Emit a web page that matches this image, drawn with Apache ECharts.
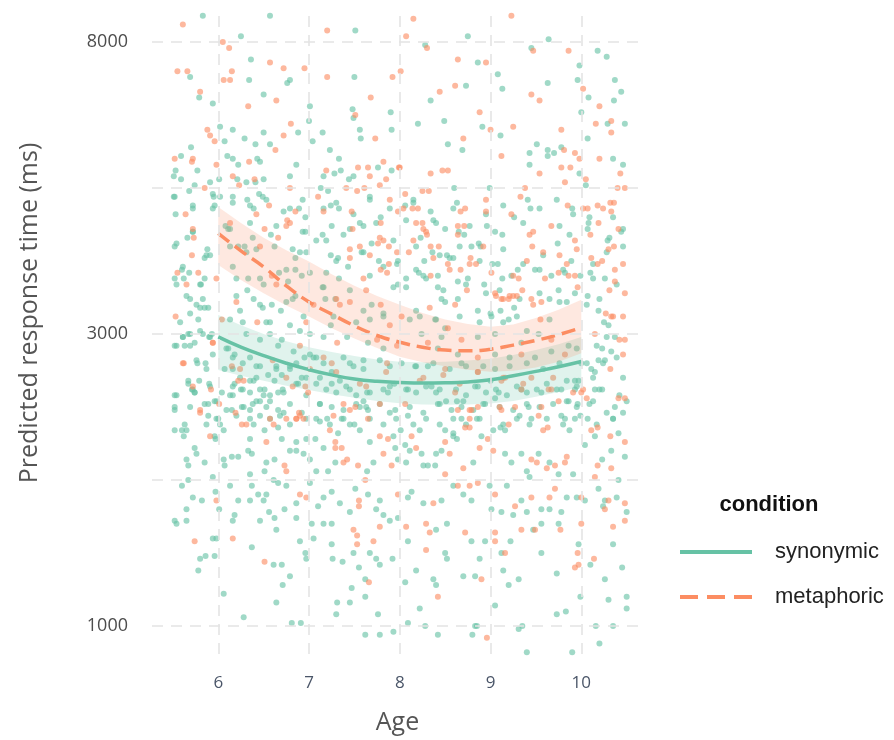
<!DOCTYPE html>
<html>
<head>
<meta charset="utf-8">
<script src="https://cdn.jsdelivr.net/npm/echarts@6/dist/echarts.min.js"></script>
<style>
html,body{margin:0;padding:0;background:#fff;}
#chart{width:894px;height:740px;}
</style>
</head>
<body>
<div id="chart"></div>
<script>
// ---- tick / grid values ----
const xTicks = [6, 7, 8, 9, 10];
const yGridValues = [7, 7.5, 8, 8.5, 9];          // log(ms) grid positions
const yTickValues = [7, 8, 9];                    // log(ms) labelled breaks
const yTickLabels = ['1000', '3000', '8000'];      // displayed labels

// ---- model fit (ages and log response time) ----
const fitAges  = [6, 6.25, 6.5, 6.75, 7, 7.25, 7.5, 7.75, 8, 8.25, 8.5, 8.75, 9, 9.25, 9.5, 9.75, 10];
const synFit   = [7.99, 7.955, 7.926, 7.90, 7.878, 7.860, 7.846, 7.838, 7.834, 7.832, 7.833, 7.836, 7.843, 7.857, 7.872, 7.888, 7.906];
const synLower = [7.877, 7.857, 7.84, 7.823, 7.808, 7.794, 7.782, 7.771, 7.763, 7.759, 7.758, 7.759, 7.762, 7.771, 7.785, 7.801, 7.82];
const synUpper = [8.065, 8.03, 8.0, 7.975, 7.955, 7.938, 7.925, 7.913, 7.905, 7.903, 7.905, 7.909, 7.915, 7.928, 7.945, 7.965, 7.99];
const metFit   = [8.345, 8.285, 8.23, 8.165, 8.11, 8.068, 8.028, 7.995, 7.972, 7.955, 7.945, 7.943, 7.948, 7.962, 7.978, 7.998, 8.022];
const metLower = [8.236, 8.185, 8.14, 8.098, 8.06, 8.02, 7.985, 7.952, 7.922, 7.903, 7.89, 7.878, 7.871, 7.874, 7.885, 7.905, 7.934];
const metUpper = [8.435, 8.38, 8.33, 8.287, 8.248, 8.205, 8.165, 8.13, 8.10, 8.072, 8.05, 8.034, 8.025, 8.033, 8.055, 8.083, 8.117];

// ---- raw observations [age, log response time] ----
const synonymicPts = [
[5.83,9.09],[6.57,9.09],[7.51,9.04],[6.25,9.02],[6.36,8.94],[5.69,8.88],[6.34,8.87],[6.79,8.87],[6.76,8.86],[7.50,8.88],[5.79,8.81],[6.50,8.82],[5.94,8.79],[7.01,8.78],[7.48,8.77],[7.49,8.74],[7.90,8.76],[7.00,8.73],[6.02,8.71],[6.16,8.70],[6.29,8.67],[6.50,8.69],[6.88,8.69],[7.15,8.69],[7.56,8.70],[7.57,8.67],[7.91,8.70],[6.07,8.66],[6.41,8.65],[6.57,8.65],[7.04,8.66],[5.70,8.64],[7.23,8.63],[6.10,8.61],[6.16,8.60],[6.22,8.58],[6.43,8.60],[6.46,8.59],[7.33,8.60],[6.86,8.58],[5.59,8.61],[5.53,8.56],[5.51,8.54],[5.59,8.53],[5.77,8.56],[7.28,8.55],[7.35,8.56],[7.76,8.57],[7.91,8.56],[7.49,8.54],[7.44,8.53],[7.16,8.54],[6.79,8.54],[6.21,8.53],[6.31,8.52],[6.50,8.53],[6.41,8.52],[6.01,8.53],[5.91,8.52],[5.74,8.51],[5.68,8.49],[7.13,8.50],[7.21,8.49],[5.51,8.47],[5.95,8.47],[6.02,8.47],[6.32,8.46],[6.45,8.48],[6.49,8.47],[5.96,8.44],[5.94,8.43],[6.16,8.45],[7.24,8.44],[7.33,8.43],[7.67,8.47],[6.89,8.43],[6.96,8.40],[6.39,8.43],[5.53,8.41],[5.72,8.43],[6.72,8.42],[6.35,8.38],[5.72,8.35],[5.66,8.33],[6.08,8.37],[6.11,8.36],[6.96,8.35],[7.08,8.32],[7.15,8.34],[7.25,8.37],[7.38,8.34],[7.56,8.38],[7.60,8.37],[7.79,8.40],[7.69,8.31],[6.58,8.34],[5.52,8.30],[6.13,8.30],[6.22,8.30],[6.29,8.30],[6.31,8.28],[6.42,8.29],[6.62,8.30],[6.82,8.29],[6.85,8.26],[6.90,8.28],[5.88,8.29],[5.91,8.27],[5.85,8.26],[7.24,8.27],[7.32,8.26],[7.58,8.28],[7.77,8.25],[7.97,8.24],[5.54,8.17],[5.60,8.22],[5.62,8.19],[5.68,8.21],[5.81,8.17],[5.85,8.19],[6.20,8.19],[6.33,8.19],[6.32,8.15],[6.50,8.17],[6.67,8.21],[6.77,8.18],[6.85,8.22],[6.92,8.20],[7.01,8.21],[7.19,8.21],[7.15,8.16],[7.33,8.19],[7.43,8.23],[7.98,8.17],[5.65,8.13],[5.76,8.10],[5.83,8.12],[5.80,8.09],[5.89,8.09],[6.24,8.08],[6.39,8.12],[6.46,8.10],[6.59,8.10],[6.69,8.08],[6.75,8.11],[6.85,8.13],[6.94,8.06],[7.18,8.12],[7.29,8.12],[7.60,8.08],[7.69,8.10],[5.69,8.07],[5.78,8.05],[6.13,8.05],[6.53,8.04],[6.79,8.03],[7.24,8.03],[7.67,8.05],[7.82,8.07],[5.80,8.01],[5.93,8.00],[5.67,8.00],
[8.28,8.99],[8.75,9.02],[9.64,9.01],[9.45,8.98],[10.18,8.97],[10.28,8.95],[9.98,8.92],[8.86,8.93],[9.08,8.89],[9.13,8.84],[9.96,8.87],[10.37,8.87],[10.44,8.83],[8.73,8.85],[8.34,8.80],[9.63,8.86],[10.08,8.81],[10.36,8.80],[10.00,8.76],[8.20,8.72],[8.49,8.73],[8.91,8.71],[10.29,8.72],[10.48,8.72],[9.11,8.68],[8.69,8.63],[8.53,8.65],[10.07,8.67],[9.51,8.65],[9.43,8.62],[9.63,8.63],[9.63,8.61],[9.70,8.62],[9.78,8.64],[10.35,8.60],[10.46,8.58],[9.43,8.58],[9.98,8.55],[10.05,8.51],[8.60,8.50],[8.99,8.50],[8.15,8.46],[8.06,8.44],[9.41,8.46],[9.44,8.43],[9.73,8.46],[9.90,8.43],[10.35,8.40],[8.63,8.45],[8.34,8.42],[8.07,8.39],[8.40,8.38],[8.50,8.36],[8.65,8.35],[8.71,8.34],[8.23,8.33],[8.96,8.37],[9.05,8.35],[9.13,8.34],[9.26,8.40],[9.87,8.34],[10.08,8.38],[10.07,8.36],[10.29,8.32],[10.44,8.35],[10.46,8.30],[8.36,8.28],[8.79,8.30],[8.87,8.31],[8.89,8.30],[9.74,8.31],[9.89,8.25],[10.28,8.28],[8.52,8.27],[8.55,8.26],[8.59,8.26],[7.98,8.25],[8.18,8.22],[8.21,8.21],[8.07,8.19],[8.07,8.16],[8.27,8.25],[8.29,8.19],[8.42,8.20],[8.42,8.16],[8.64,8.18],[8.75,8.19],[8.93,8.17],[9.02,8.24],[9.08,8.24],[9.13,8.19],[9.23,8.20],[9.30,8.22],[9.49,8.22],[9.54,8.22],[9.67,8.20],[9.82,8.21],[9.99,8.20],[10.10,8.21],[10.13,8.19],[10.26,8.19],[9.75,8.15],[9.93,8.14],[10.07,8.13],[9.65,8.12],[8.46,8.12],[8.50,8.11],[8.64,8.12],[8.86,8.08],[9.00,8.07],[9.11,8.08],[9.26,8.09],[9.84,8.11],[10.06,8.10],[10.19,8.08],[10.25,8.04],[8.11,8.05],[8.22,8.06],[8.39,8.05],[8.50,8.02],[9.01,8.06],[9.20,8.05],[9.29,8.06],[10.30,8.03],
[5.61,7.99],[5.69,8.00],[5.83,8.00],[5.90,7.99],[5.54,7.96],[5.63,7.96],[5.74,7.97],[5.94,7.93],[5.77,7.90],[5.86,7.90],[6.09,7.95],[6.18,7.93],[6.31,8.00],[6.46,7.98],[6.57,8.00],[6.70,7.98],[6.66,7.96],[6.83,7.94],[7.01,8.00],[7.16,7.99],[7.42,7.99],[7.65,7.97],[7.82,7.95],[7.45,7.90],[7.01,7.93],[7.05,7.92],[6.79,7.89],[6.64,7.89],[6.42,7.89],[7.60,7.91],[6.07,7.88],[5.67,7.84],[5.71,7.81],[5.74,7.80],[5.79,7.84],[5.90,7.83],[5.54,7.79],[6.04,7.80],[6.13,7.79],[6.18,7.83],[6.25,7.81],[6.39,7.84],[6.35,7.80],[6.51,7.81],[6.50,7.79],[6.62,7.84],[6.72,7.80],[6.86,7.83],[6.92,7.85],[7.12,7.85],[7.25,7.83],[7.34,7.84],[7.45,7.81],[7.64,7.80],[7.87,7.80],[7.89,7.82],[7.60,7.77],[6.42,7.77],[5.98,7.77],[5.52,7.75],[5.69,7.75],[5.85,7.76],[5.89,7.76],[6.15,7.74],[6.28,7.75],[6.35,7.74],[6.46,7.77],[6.57,7.77],[6.66,7.74],[6.72,7.73],[7.12,7.76],[7.56,7.75],[7.65,7.74],[7.95,7.74],[5.52,7.67],[5.60,7.67],[5.65,7.67],[5.62,7.65],[5.63,7.69],[5.89,7.72],[6.00,7.71],[6.02,7.69],[6.06,7.67],[5.96,7.65],[5.97,7.64],[6.39,7.69],[6.51,7.67],[6.66,7.68],[7.07,7.64],[7.12,7.70],[7.20,7.71],[7.32,7.66],[7.36,7.71],[7.45,7.69],[7.56,7.67],[7.67,7.63],[7.95,7.61],[7.93,7.65],[6.35,7.64],[6.70,7.64],[6.86,7.63],[6.97,7.64],[7.16,7.61],[5.65,7.57],[5.67,7.55],[5.74,7.61],[5.76,7.59],[5.85,7.56],[6.06,7.57],[6.15,7.58],[6.22,7.58],[6.07,7.55],[6.33,7.60],[6.37,7.59],[6.53,7.56],[6.62,7.57],[6.79,7.60],[6.86,7.60],[6.94,7.59],[7.01,7.57],[7.08,7.53],[7.21,7.53],[7.29,7.56],[7.64,7.53],[7.71,7.56],[7.98,7.57],[6.51,7.53],[6.35,7.52],[5.94,7.51],[5.67,7.50],[5.60,7.48],[5.72,7.44],[5.82,7.43],[5.65,7.40],[5.52,7.36],[5.54,7.35],[5.65,7.36],[5.97,7.46],[6.01,7.40],[6.13,7.48],[6.22,7.43],[6.16,7.36],[6.18,7.38],[6.35,7.43],[6.37,7.48],[6.44,7.45],[6.50,7.43],[6.53,7.45],[6.61,7.50],[6.66,7.49],[6.75,7.48],[6.73,7.40],[6.56,7.39],[6.62,7.37],[6.64,7.33],[6.46,7.36],[6.86,7.42],[7.01,7.49],[7.10,7.41],[7.16,7.44],[7.25,7.46],[7.34,7.42],[7.45,7.39],[7.51,7.47],[7.65,7.45],[7.78,7.43],[7.82,7.38],[7.89,7.36],[7.98,7.37],[7.74,7.40],[7.25,7.35],[7.16,7.35],[7.03,7.35],[6.86,7.37],[5.94,7.30],[5.98,7.30],[6.37,7.27],[6.90,7.29],[7.05,7.30],[7.25,7.28],[5.80,7.23],[5.86,7.24],[5.96,7.24],[5.78,7.19],[6.06,7.11],[6.61,7.21],[6.70,7.21],[6.79,7.17],[6.71,7.14],[6.64,7.08],[6.28,7.03],[6.81,7.01],[6.91,7.01],[6.96,7.25],[6.97,7.23],[7.26,7.23],[7.37,7.22],[7.49,7.25],[7.55,7.20],[7.67,7.25],[7.74,7.23],[7.78,7.21],[7.92,7.23],[7.62,7.16],[7.47,7.13],[7.62,7.10],[7.76,7.04],[7.31,7.08],[7.45,7.08],[7.30,7.04],[7.93,6.98],[7.78,6.97],[7.62,6.97],
[8.09,7.72],[8.22,7.67],[8.01,7.67],[8.44,7.76],[8.63,7.77],[8.70,7.77],[8.68,7.71],[8.85,7.71],[8.94,7.76],[9.05,7.78],[9.09,7.80],[9.11,7.68],[9.03,7.67],[9.16,7.67],[9.32,7.72],[9.34,7.81],[9.42,7.75],[9.45,7.71],[9.78,7.72],[9.82,7.71],[9.87,7.67],[9.86,7.77],[9.96,7.76],[9.99,7.72],[9.93,7.81],[10.13,7.77],[10.07,7.71],[10.15,7.81],[10.23,7.81],[10.15,7.87],[10.11,7.88],[10.19,7.91],[10.26,7.91],[10.23,7.95],[10.33,7.94],[10.17,7.96],[10.37,7.99],[10.28,7.99],[10.00,7.90],[9.97,7.84],[10.50,7.77],[10.37,7.75],[10.46,7.73],[10.35,7.71],[10.15,7.65],[10.41,7.66],[10.33,7.60],[10.48,7.58],[10.23,7.57],[10.04,7.62],[8.24,8.00],[8.46,7.99],[8.86,7.99],[9.05,8.00],[9.34,7.97],[9.53,8.00],[9.86,7.96],[8.42,7.95],[8.64,7.93],[9.05,7.93],[9.21,7.92],[9.49,7.92],[9.67,7.94],[9.95,7.95],[8.02,7.90],[8.17,7.89],[8.31,7.89],[8.68,7.90],[9.05,7.88],[9.56,7.80],[9.78,7.81],[8.09,7.81],[8.35,7.82],[8.44,7.81],[8.83,7.82],[9.00,7.84],[9.93,7.84],[8.06,7.62],[8.11,7.60],[8.07,7.56],[8.24,7.59],[8.26,7.55],[8.31,7.55],[8.39,7.55],[8.40,7.59],[8.46,7.60],[8.59,7.65],[8.63,7.64],[8.81,7.56],[8.90,7.65],[9.16,7.59],[9.23,7.56],[9.34,7.59],[9.40,7.53],[9.43,7.51],[9.53,7.59],[9.65,7.56],[9.75,7.52],[9.91,7.52],[10.41,7.50],[8.50,7.67],[8.59,7.66],[8.09,7.44],[8.13,7.46],[8.26,7.42],[8.46,7.43],[8.59,7.48],[8.70,7.45],[8.79,7.43],[8.99,7.48],[9.01,7.40],[9.12,7.39],[9.25,7.38],[9.18,7.48],[9.34,7.43],[9.40,7.39],[9.56,7.40],[9.65,7.40],[9.78,7.39],[9.84,7.44],[9.95,7.44],[10.04,7.43],[10.19,7.47],[10.26,7.43],[10.24,7.41],[10.39,7.44],[10.50,7.39],[9.75,7.35],[9.56,7.35],[9.47,7.33],[8.94,7.29],[8.79,7.29],[8.52,7.35],[8.40,7.33],[8.09,7.29],[9.22,7.29],[9.97,7.28],[10.35,7.28],[10.10,7.21],[8.50,7.25],[8.52,7.23],[8.88,7.23],[9.12,7.25],[9.56,7.25],[8.18,7.19],[8.06,7.15],[8.37,7.16],[8.40,7.14],[8.70,7.17],[8.83,7.17],[9.14,7.19],[9.20,7.14],[9.31,7.16],[9.73,7.18],[10.26,7.16],[10.45,7.20],[9.99,7.10],[10.30,7.09],[10.50,7.10],[10.50,7.06],[8.22,7.06],[9.05,7.07],[9.73,7.04],[9.83,7.05],[8.09,7.01],[8.28,7.00],[8.83,7.00],[8.85,7.00],[9.31,6.99],[9.35,7.00],[8.42,6.97],[8.80,6.97],[10.16,7.00],[10.35,7.00],[10.20,6.94],[9.40,6.91],[9.90,6.91],
[5.52,7.96],[5.61,7.99],[5.69,7.96],[5.91,7.99],[5.76,7.91],[5.87,7.88],[5.67,7.83],[5.72,7.81],[5.74,7.80],[5.91,7.82],[5.52,7.79],[5.52,7.74],[5.96,7.77],[5.98,7.71],[5.87,7.69],
[6.11,7.95],[6.16,7.92],[6.27,7.90],[6.35,7.92],[6.46,7.89],[6.16,7.88],[6.24,7.85],[6.35,7.84],[6.42,7.85],[6.55,7.86],[6.64,7.88],[6.70,7.86],[6.79,7.88],[6.86,7.90],[6.95,7.92],[6.16,7.82],[6.27,7.81],[6.46,7.81],[6.57,7.79],[6.66,7.80],[6.71,7.81],[6.88,7.83],[6.97,7.85],[6.16,7.79],[6.26,7.75],[6.38,7.76],[6.53,7.75],[6.79,7.76],[6.97,7.79],[6.09,7.74],[6.20,7.72],[6.35,7.71],[6.46,7.72],[6.57,7.71],[6.68,7.72],[6.79,7.69],[6.92,7.73],[6.97,7.71],
[7.08,7.92],[7.16,7.90],[7.25,7.87],[7.38,7.92],[7.49,7.89],[7.60,7.88],[7.78,7.91],[7.89,7.89],[7.08,7.83],[7.19,7.81],[7.30,7.80],[7.41,7.82],[7.52,7.79],[7.67,7.80],[7.82,7.81],[7.94,7.83],[7.12,7.76],[7.25,7.75],[7.38,7.74],[7.52,7.76],[7.63,7.75],[7.78,7.76],[7.89,7.73],[7.08,7.71],[7.23,7.69],[7.38,7.71],[7.50,7.69],[7.67,7.71],[7.82,7.69],[7.96,7.71],
[8.07,7.81],[8.18,7.80],[8.29,7.82],[8.40,7.80],[8.51,7.77],[8.62,7.81],[8.73,7.79],[8.86,7.82],[8.95,7.80],[8.11,7.75],[8.26,7.73],[8.42,7.76],[8.57,7.74],[8.68,7.75],[8.81,7.74],[8.92,7.76],[8.15,7.69],[8.29,7.71],[8.44,7.69],[8.59,7.71],[8.73,7.69],[8.88,7.71],[8.18,7.89],[8.37,7.90],[8.55,7.88],[8.73,7.89],[8.92,7.89],
[9.06,7.81],[9.18,7.79],[9.29,7.82],[9.40,7.80],[9.51,7.81],[9.62,7.83],[9.73,7.81],[9.84,7.84],[9.95,7.82],[9.10,7.75],[9.25,7.74],[9.40,7.76],[9.54,7.75],[9.69,7.76],[9.84,7.77],[9.95,7.75],[9.14,7.69],[9.29,7.71],[9.43,7.69],[9.62,7.71],[9.80,7.69],[9.93,7.71],[9.21,7.89],[9.40,7.90],[9.58,7.88],[9.76,7.90],
[10.06,7.90],[10.13,7.85],[10.20,7.81],[10.09,7.76],[10.28,7.73],[10.35,7.71],[10.42,7.79],[10.46,7.85],[10.24,7.90],[10.39,7.92],[10.17,7.69],
[5.52,8.47],[5.72,8.44],[5.94,8.48],[5.54,8.31],[5.72,8.35],[5.87,8.27],[5.61,8.23],[5.80,8.17],[5.52,8.19],[5.69,8.12],[5.85,8.09],[5.58,8.04],[6.16,8.47],[6.35,8.44],[6.53,8.46],[6.79,8.43],[6.93,8.46],[7.16,8.43],[7.30,8.45],[7.49,8.41],[7.67,8.46],[7.89,8.43],[6.13,8.36],[6.38,8.33],[6.64,8.37],[6.93,8.35],[7.19,8.32],[7.45,8.36],[7.74,8.38],[7.93,8.32],[6.16,8.23],[6.46,8.19],[6.75,8.22],[6.97,8.28],[7.30,8.25],[7.60,8.28],[7.82,8.23],[6.20,8.13],[6.49,8.09],[6.82,8.12],[7.16,8.16],[7.45,8.15],[7.67,8.20],[7.93,8.16],[6.27,8.04],[6.57,8.04],[6.90,8.01],[7.27,8.06],[7.52,8.04],[7.82,8.06],
[8.15,8.45],[8.37,8.39],[8.59,8.43],[8.77,8.37],[8.95,8.41],[8.18,8.30],[8.44,8.27],[8.66,8.30],[8.88,8.25],[8.26,8.20],[8.48,8.15],[8.73,8.17],[8.95,8.14],[8.18,8.08],[8.40,8.05],[8.66,8.06],[8.88,8.04],[9.14,8.44],[9.36,8.38],[9.54,8.43],[9.76,8.37],[9.91,8.41],[9.14,8.29],[9.36,8.24],[9.58,8.27],[9.80,8.22],[9.10,8.15],[9.32,8.12],[9.54,8.14],[9.76,8.11],[9.14,8.04],[9.40,8.01],[9.65,8.05],[10.09,8.40],[10.31,8.33],[10.13,8.24],[10.39,8.17],[10.20,8.12],[10.46,8.36]
];
const metaphoricPts = [
[5.61,9.06],[7.20,9.04],[6.05,9.00],[6.12,8.98],[6.57,8.93],[6.72,8.91],[6.95,8.91],[5.55,8.90],[5.66,8.90],[6.06,8.87],[6.13,8.87],[6.15,8.90],[7.20,8.88],[7.92,8.88],[5.80,8.83],[6.64,8.80],[6.33,8.78],[7.68,8.81],[7.51,8.75],[6.80,8.72],[5.88,8.70],[5.91,8.68],[5.96,8.66],[6.72,8.68],[7.73,8.67],[6.63,8.63],[6.34,8.59],[5.98,8.58],[5.52,8.60],[5.71,8.59],[5.72,8.60],[7.19,8.56],[7.54,8.57],[7.65,8.57],[7.82,8.59],[7.99,8.57],[7.67,8.54],[7.85,8.53],[6.16,8.54],[6.40,8.53],[5.85,8.50],[6.23,8.51],[6.79,8.50],[7.41,8.50],[7.53,8.49],[7.61,8.50],[7.78,8.51],[6.56,8.44],[7.10,8.47],[7.16,8.42],[7.47,8.42],[7.89,8.46],[6.85,8.42],[6.42,8.41],[5.64,8.41],[6.76,8.39],[6.75,8.37],[6.51,8.36],[5.72,8.36],[5.73,8.33],[7.48,8.36],[7.79,8.38],[7.82,8.32],[7.76,8.31],[7.88,8.30],[7.97,8.28],[6.66,8.33],[5.71,8.27],[7.45,8.26],[7.56,8.30],[7.67,8.27],[7.88,8.24],[5.55,8.21],[5.65,8.17],[5.78,8.21],[5.98,8.19],[6.59,8.20],[6.64,8.17],[7.60,8.19],[7.79,8.22],[7.86,8.21],[6.20,8.11],[7.05,8.10],[7.34,8.10],[7.45,8.11],[7.79,8.10],[5.53,8.06],[6.04,8.05],[6.43,8.04],[6.97,8.04],[7.89,8.03],
[8.15,9.08],[8.07,9.02],[9.23,9.09],[8.30,8.98],[9.47,8.97],[9.86,8.97],[8.95,8.93],[8.64,8.94],[8.01,8.90],[10.02,8.84],[8.61,8.85],[8.44,8.83],[9.45,8.82],[9.54,8.80],[10.20,8.78],[8.88,8.76],[9.00,8.70],[9.25,8.71],[9.78,8.70],[10.16,8.72],[10.33,8.73],[10.33,8.69],[8.70,8.67],[9.81,8.63],[9.93,8.62],[9.98,8.60],[9.12,8.61],[10.20,8.60],[9.78,8.57],[9.88,8.57],[8.00,8.57],[8.34,8.55],[8.47,8.56],[8.53,8.56],[9.54,8.55],[10.05,8.53],[9.82,8.52],[10.43,8.55],[10.40,8.50],[10.48,8.50],[9.38,8.50],[8.06,8.48],[8.25,8.49],[8.32,8.49],[8.14,8.43],[8.20,8.43],[7.98,8.42],[9.33,8.47],[9.85,8.44],[10.07,8.43],[10.18,8.44],[10.24,8.43],[10.32,8.45],[10.36,8.45],[10.33,8.42],[8.72,8.43],[8.67,8.42],[8.95,8.46],[8.95,8.42],[8.18,8.38],[8.25,8.38],[8.64,8.37],[8.71,8.37],[8.64,8.34],[8.29,8.35],[8.30,8.34],[9.23,8.41],[9.43,8.34],[9.67,8.37],[10.10,8.34],[10.19,8.38],[10.30,8.29],[10.41,8.36],[10.36,8.30],[8.10,8.28],[8.15,8.32],[8.34,8.30],[8.43,8.30],[9.46,8.30],[9.58,8.28],[9.76,8.27],[9.93,8.32],[9.95,8.29],[10.11,8.26],[10.18,8.24],[10.23,8.25],[10.46,8.24],[10.37,8.22],[10.37,8.18],[8.53,8.24],[8.78,8.26],[8.84,8.24],[8.77,8.24],[8.37,8.26],[8.34,8.20],[8.67,8.22],[8.74,8.15],[9.01,8.21],[9.31,8.19],[9.40,8.25],[9.60,8.19],[9.75,8.21],[9.86,8.20],[9.93,8.20],[9.96,8.16],[10.48,8.14],[9.05,8.14],[9.12,8.12],[9.20,8.12],[9.25,8.13],[9.35,8.15],[9.45,8.12],[9.56,8.11],[8.33,8.09],[8.61,8.10],[9.47,8.10],[10.27,8.07],[10.35,8.06],[10.46,8.06],[8.02,8.06],[8.53,8.02],[9.55,8.05],
[5.94,7.97],[5.62,7.90],[6.90,7.96],[7.31,7.97],[7.75,7.98],[7.97,7.96],[7.25,7.90],[6.24,7.88],[6.15,7.89],[6.60,7.91],[7.16,7.92],[7.86,7.90],[5.72,7.82],[5.92,7.81],[6.28,7.84],[6.75,7.85],[6.99,7.80],[6.96,7.82],[7.01,7.88],[7.56,7.83],[5.80,7.74],[6.01,7.76],[6.19,7.73],[6.89,7.73],[6.90,7.72],[6.94,7.71],[7.27,7.72],[7.38,7.76],[7.51,7.75],[7.78,7.76],[5.91,7.65],[6.26,7.69],[6.53,7.63],[6.57,7.71],[6.61,7.69],[6.75,7.71],[6.86,7.71],[7.23,7.67],[7.65,7.71],[7.78,7.65],[7.87,7.64],[7.29,7.63],[7.36,7.61],[7.29,7.61],[6.73,7.55],[6.75,7.53],[7.38,7.56],[7.42,7.57],[7.54,7.55],[7.62,7.50],[7.82,7.59],[7.91,7.55],[5.98,7.43],[6.90,7.45],[6.97,7.44],[7.55,7.43],[7.55,7.41],[7.49,7.33],[7.53,7.31],[7.53,7.28],[7.71,7.29],[7.78,7.34],[5.74,7.29],[6.16,7.30],[6.51,7.22],[7.66,7.15],
[8.06,7.76],[8.13,7.65],[8.61,7.80],[8.64,7.74],[8.79,7.74],[8.86,7.75],[8.77,7.71],[8.72,7.68],[8.77,7.68],[9.12,7.74],[9.20,7.69],[9.27,7.75],[9.56,7.75],[9.53,7.72],[9.58,7.67],[9.63,7.68],[9.67,7.81],[9.75,7.77],[10.06,7.78],[10.32,7.88],[10.46,7.93],[10.48,7.98],[10.15,8.00],[10.00,7.80],[10.48,7.78],[10.41,7.78],[10.11,7.67],[10.18,7.68],[10.32,7.65],[10.48,7.63],[8.31,7.97],[8.68,7.98],[9.67,7.98],[8.86,7.92],[9.34,7.93],[9.82,7.93],[8.50,7.88],[8.86,7.87],[9.16,7.85],[9.34,7.81],[9.64,7.81],[8.22,7.84],[9.12,7.84],[9.45,7.85],[8.18,7.61],[8.50,7.63],[8.55,7.59],[8.50,7.52],[8.70,7.54],[8.88,7.61],[8.97,7.64],[9.03,7.60],[9.45,7.57],[9.51,7.56],[9.62,7.54],[9.71,7.55],[9.82,7.56],[9.84,7.58],[10.15,7.51],[10.18,7.55],[10.33,7.54],[7.98,7.45],[8.37,7.42],[8.64,7.48],[8.77,7.48],[8.86,7.49],[9.05,7.45],[9.27,7.41],[9.45,7.44],[9.65,7.44],[9.71,7.47],[10.00,7.44],[10.30,7.43],[10.26,7.40],[10.48,7.42],[10.48,7.36],[10.00,7.35],[9.77,7.33],[9.49,7.33],[9.34,7.33],[9.05,7.32],[9.05,7.29],[8.72,7.32],[8.33,7.32],[8.29,7.35],[8.07,7.34],[10.35,7.34],[9.96,7.25],[9.97,7.21],[9.93,7.20],[10.14,7.23],[8.29,7.26],[9.16,7.25],[8.42,7.10],[8.90,7.16],[8.96,6.96],
[5.94,7.97],[5.61,7.90],[5.80,7.73],[6.22,7.84],[6.82,7.82],[6.31,7.69],[6.86,7.71],[7.30,7.87],[7.63,7.82],[7.45,7.74],[7.85,7.87],[8.26,7.85],[8.48,7.86],[8.66,7.83],[8.86,7.87],[8.77,7.74],[9.10,7.75],[9.14,7.85],[9.36,7.83],[9.69,7.85],[9.91,7.80],[10.02,7.81],[10.33,8.06],[10.42,7.98],
[6.13,8.38],[6.46,8.30],[6.79,8.38],[7.45,8.29],[7.78,8.33],[8.04,8.43],[8.26,8.36],[8.55,8.22],[8.92,8.30],[9.25,8.20],[9.47,8.35],[9.84,8.24],[10.02,8.43],[10.31,8.15],[7.63,8.15],[7.30,8.12],[9.29,8.13],[9.06,8.13],[9.14,8.12],[9.21,8.13]
];

// ---- styling ----
const GREEN = '#66c2a5';
const ORANGE = '#fc8d62';
const GRID_COLOR = '#e4e4e4';

const zip = (xs, ys) => xs.map((x, i) => [x, ys[i]]);
const bandRows = (lo, hi) => fitAges.map((x, i) => [x, lo[i], hi[i]]);

// ribbon drawn as one polygon through the axis scales
function makeRibbon(name, lo, hi, fill) {
  const rows = bandRows(lo, hi);
  return {
    name: name,
    type: 'custom',
    data: rows,
    encode: { x: 0, y: [1, 2] },
    z: 3,
    silent: true,
    clip: true,
    renderItem: function (params, api) {
      if (params.dataIndex !== 0) return null;
      const top = rows.map(r => api.coord([r[0], r[2]]));
      const bottom = rows.map(r => api.coord([r[0], r[1]])).reverse();
      return {
        type: 'polygon',
        shape: { points: top.concat(bottom) },
        style: { fill: fill },
        silent: true
      };
    }
  };
}

const gridMarkData = xTicks.map(v => ({ xAxis: v })).concat(yGridValues.map(v => ({ yAxis: v })));

const chart = echarts.init(document.getElementById('chart'), null, { renderer: 'canvas' });

const option = {
  animation: false,
  backgroundColor: '#ffffff',
  grid: { left: 152, right: 251, top: 12, bottom: 86, outerBoundsMode: 'none' },
  xAxis: {
    type: 'value',
    min: 5.27, max: 10.68,
    axisLine: { show: false },
    axisTick: { show: false },
    splitLine: { show: false },
    axisLabel: {
      customValues: xTicks,
      margin: 21,
      fontFamily: 'Open Sans',
      fontSize: 17,
      color: '#4a5568'
    },
    name: 'Age',
    nameLocation: 'middle',
    nameGap: 56,
    nameTextStyle: { fontFamily: 'Open Sans', fontSize: 25, color: '#555555' }
  },
  yAxis: {
    type: 'value',
    min: 6.904, max: 9.103,
    axisLine: { show: false },
    axisTick: { show: false },
    splitLine: { show: false },
    axisLabel: {
      customValues: yTickValues,
      margin: 24,
      fontFamily: 'Open Sans',
      fontSize: 18,
      color: '#4d4d4d',
      formatter: function (v) {
        const i = yTickValues.findIndex(t => Math.abs(t - v) < 1e-6);
        return i >= 0 ? yTickLabels[i] : '';
      }
    }
  },
  graphic: [
    {
      type: 'text',
      x: 30, y: 313,
      rotation: Math.PI / 2,
      style: {
        text: 'Predicted response time (ms)',
        fontFamily: 'Open Sans',
        fontSize: 25,
        fill: '#555555',
        textAlign: 'center',
        textVerticalAlign: 'middle'
      }
    },
    {
      type: 'text',
      x: 769, y: 505,
      style: {
        text: 'condition',
        fontFamily: 'Liberation Sans',
        fontWeight: 'bold',
        fontSize: 22,
        fill: '#111111',
        textAlign: 'center',
        textVerticalAlign: 'middle'
      }
    }
  ],
  legend: {
    data: [
      { name: 'synonymic' },
      { name: 'metaphoric', lineStyle: { type: [18, 9] } }
    ],
    orient: 'vertical',
    left: 678,
    top: 541,
    itemWidth: 72,
    itemHeight: 14,
    itemGap: 23,
    padding: 0,
    selectedMode: false,
    itemStyle: { opacity: 0 },
    lineStyle: { width: 4 },
    textStyle: {
      fontFamily: 'Liberation Sans',
      fontSize: 22,
      color: '#222222',
      padding: [0, 0, 0, 18]
    }
  },
  series: [
    {
      name: 'grid',
      type: 'line',
      data: [],
      z: 0,
      silent: true,
      markLine: {
        silent: true,
        symbol: ['none', 'none'],
        label: { show: false },
        emphasis: { disabled: true },
        lineStyle: { color: GRID_COLOR, width: 1.6, type: [11, 8] },
        data: gridMarkData,
        animation: false
      }
    },
    {
      name: 'synonymic obs',
      type: 'scatter',
      data: synonymicPts,
      symbolSize: 6,
      z: 2,
      silent: true,
      itemStyle: { color: GREEN, opacity: 0.62 }
    },
    {
      name: 'metaphoric obs',
      type: 'scatter',
      data: metaphoricPts,
      symbolSize: 6,
      z: 2,
      silent: true,
      itemStyle: { color: ORANGE, opacity: 0.62 }
    },
    makeRibbon('syn ribbon', synLower, synUpper, 'rgba(102,194,165,0.2)'),
    makeRibbon('met ribbon', metLower, metUpper, 'rgba(252,141,98,0.2)'),
    {
      name: 'synonymic',
      type: 'line',
      data: zip(fitAges, synFit),
      smooth: true,
      symbol: 'none',
      z: 4,
      silent: true,
      color: GREEN,
      lineStyle: { color: GREEN, width: 3.5 }
    },
    {
      name: 'metaphoric',
      type: 'line',
      data: zip(fitAges, metFit),
      smooth: true,
      symbol: 'none',
      z: 4,
      silent: true,
      color: ORANGE,
      lineStyle: { color: ORANGE, width: 3.5, type: [14, 7] }
    }
  ]
};

chart.setOption(option);
</script>
</body>
</html>
